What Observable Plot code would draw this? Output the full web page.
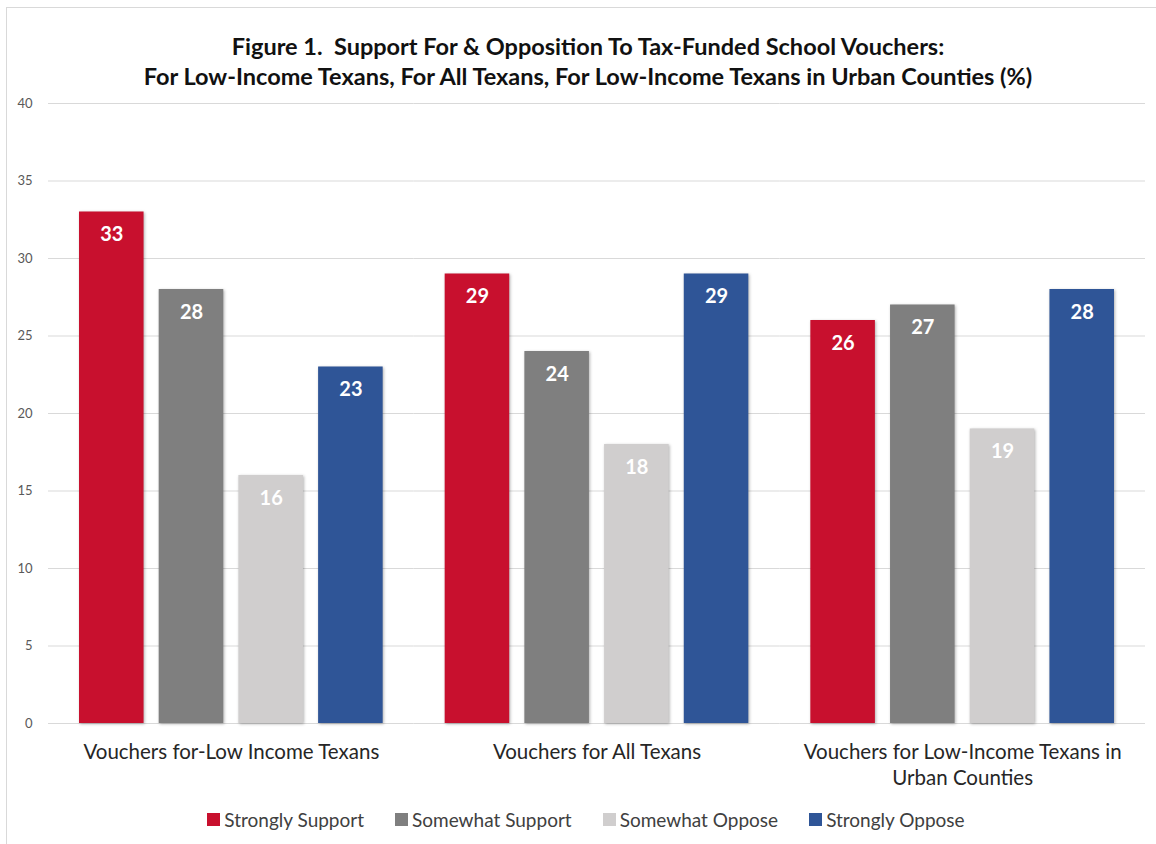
<!DOCTYPE html>
<html>
<head>
<meta charset="utf-8">
<script src="https://cdn.jsdelivr.net/npm/d3@7"></script>
<script src="https://cdn.jsdelivr.net/npm/@observablehq/plot@0.6"></script>
<style>
  html, body { margin: 0; padding: 0; background: #fff; }
  #wrap { position: relative; width: 1156px; height: 844px; overflow: hidden; font-family: Lato, "Open Sans", sans-serif; }
  #border { position: absolute; left: 6px; top: 7px; width: 1160px; height: 860px; border: 1px solid #d9d9d9; box-sizing: border-box; }
  #title { position: absolute; left: 0; top: 31px; width: 1176px; text-align: center; font-weight: 700; font-size: 23.5px; line-height: 30px; color: #111; }
  #chart { position: absolute; left: 0; top: 0; }
  #chart svg g[aria-label="bar"] rect { filter: drop-shadow(1px 1px 1.5px rgba(0,0,0,0.3)); }
  #legend { position: absolute; top: 808px; left: 0; width: 1172px; display: flex; justify-content: center; gap: 31px; font-size: 19px; color: #404040; }
  #legend span.item { display: flex; align-items: center; }
  #legend span.sw { display: inline-block; width: 13px; height: 13px; margin-right: 4px; }
</style>
</head>
<body>
<div id="wrap">
  <div id="border"></div>
  <div id="title">Figure 1.&nbsp; Support For &amp; Opposition To Tax-Funded School Vouchers:<br>For Low-Income Texans, For All Texans, For Low-Income Texans in Urban Counties (%)</div>
  <div id="chart"></div>
  <div id="legend"></div>
</div>
<script>
const groups = ["Vouchers for-Low Income Texans", "Vouchers for All Texans", "Vouchers for Low-Income Texans in Urban Counties"];
const groupLabels = ["Vouchers for-Low Income Texans", "Vouchers for All Texans", "Vouchers for Low-Income Texans in\nUrban Counties"];
const series = ["Strongly Support", "Somewhat Support", "Somewhat Oppose", "Strongly Oppose"];
const colors = ["#C8102E", "#7F7F7F", "#D0CECE", "#2F5597"];
const stronglySupport = [33, 29, 26];
const somewhatSupport = [28, 24, 27];
const somewhatOppose = [16, 18, 19];
const stronglyOppose = [23, 29, 28];
const yTicks = [0, 5, 10, 15, 20, 25, 30, 35, 40];

const seriesValues = [stronglySupport, somewhatSupport, somewhatOppose, stronglyOppose];
const data = [];
groups.forEach((g, gi) => series.forEach((s, si) => data.push({group: g, series: s, value: seriesValues[si][gi]})));

const labelMap = new Map(groups.map((g, i) => [g, groupLabels[i]]));

const plot = Plot.plot({
  width: 1156,
  height: 844,
  marginTop: 103,
  marginBottom: 121,
  marginLeft: 48,
  marginRight: 11,
  style: {fontFamily: "Lato, 'Open Sans', sans-serif", background: "transparent", overflow: "visible"},
  fx: {domain: groups, padding: 0, round: false, label: null, axis: null},
  x: {domain: series, paddingInner: 0.19, paddingOuter: 0.389, round: false, axis: null},
  y: {domain: [0, 40], ticks: yTicks, label: null},
  color: {domain: series, range: colors},
  marks: [
    Plot.gridY(yTicks, {stroke: "#d9d9d9", strokeOpacity: 1, strokeWidth: 1}),
    Plot.axisY(yTicks, {tickSize: 0, tickPadding: 16, fontSize: 13, fill: "#595959", label: null}),
    Plot.barY(data, {fx: "group", x: "series", y: "value", fill: "series"}),
    Plot.text(data, {fx: "group", x: "series", y: "value", text: d => String(d.value), dy: 23, fill: "white", fontWeight: "bold", fontSize: 20}),
    Plot.axisFx({anchor: "bottom", tickSize: 0, tickPadding: 17, fontSize: 20.5, fill: "#262626", label: null, tickFormat: g => labelMap.get(g), lineHeight: 1.28, textAnchor: "middle"})
  ]
});
document.getElementById("chart").appendChild(plot);

const legend = document.getElementById("legend");
series.forEach((s, i) => {
  const item = document.createElement("span");
  item.className = "item";
  const sw = document.createElement("span");
  sw.className = "sw";
  sw.style.background = colors[i];
  item.appendChild(sw);
  item.appendChild(document.createTextNode(s));
  legend.appendChild(item);
});
</script>
</body>
</html>
